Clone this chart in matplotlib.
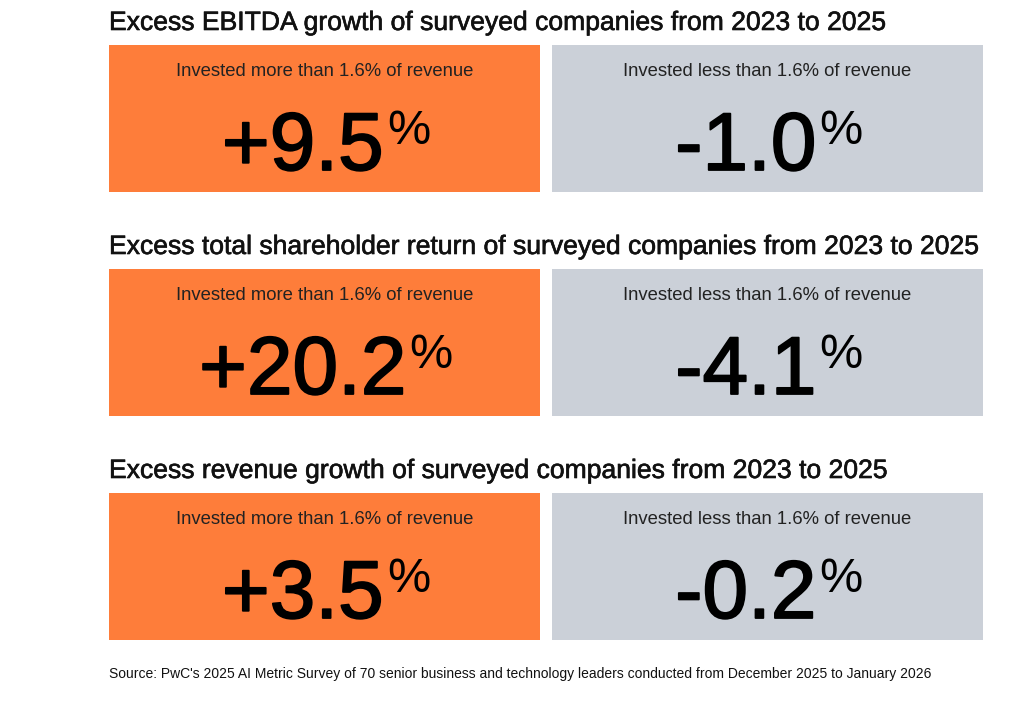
import matplotlib.pyplot as plt
import matplotlib.patheffects as pe
from matplotlib.patches import Rectangle

plt.rcParams['font.family'] = ['Liberation Sans', 'DejaVu Sans']

titles = [
    'Excess EBITDA growth of surveyed companies from 2023 to 2025',
    'Excess total shareholder return of surveyed companies from 2023 to 2025',
    'Excess revenue growth of surveyed companies from 2023 to 2025',
]
groups = ['Invested more than 1.6% of revenue', 'Invested less than 1.6% of revenue']
high_values = ['+9.5', '+20.2', '+3.5']
low_values = ['-1.0', '-4.1', '-0.2']
source = ("Source: PwC's 2025 AI Metric Survey of 70 senior business and technology "
          "leaders conducted from December 2025 to January 2026")

colors = ['#FE7D3A', '#CBD0D8']

fig = plt.figure(figsize=(10.24, 7.07), dpi=100)
ax = fig.add_axes([0, 0, 1, 1])
ax.set_xlim(0, 1024)
ax.set_ylim(707, 0)
ax.axis('off')

box_x = [109, 552]
box_w = 431
box_h = 147
row_top = [45, 269, 493]

fig.canvas.draw()
renderer = fig.canvas.get_renderer()

title_fx = [pe.withStroke(linewidth=0.45, foreground='#111111')]
num_fx = [pe.withStroke(linewidth=1.3, foreground='black')]

for r, title in enumerate(titles):
    top = row_top[r]
    ax.text(109, top - 22, title, fontsize=19.1, va='center', ha='left', color='#111111',
            path_effects=title_fx)
    vals = [high_values[r], low_values[r]]
    for c in range(2):
        x0 = box_x[c]
        ax.add_patch(Rectangle((x0, top), box_w, box_h, color=colors[c], lw=0))
        cx = x0 + box_w / 2
        ax.text(cx, top + 26, groups[c], fontsize=13.3, ha='center', va='center',
                color='#222222')
        num = ax.text(0, top + 125, vals[c], fontsize=59, ha='left', va='baseline',
                      color='black', path_effects=num_fx)
        pct = ax.text(0, top + 99, '%', fontsize=35, ha='left', va='baseline',
                      color='black')
        wn = num.get_window_extent(renderer).width
        wp = pct.get_window_extent(renderer).width
        start = cx - (wn + wp) / 2
        num.set_x(start)
        pct.set_x(start + wn + 3)

ax.text(109, 674, source, fontsize=10, ha='left', va='center', color='#111111')

fig.savefig('out.png', dpi=100)
